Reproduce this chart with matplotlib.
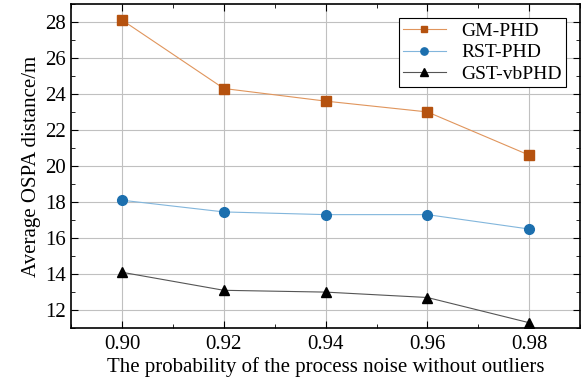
import matplotlib.pyplot as plt
from matplotlib.ticker import MultipleLocator

plt.rcParams.update({'font.family': 'Liberation Serif', 'font.size': 15})

prob = [0.90, 0.92, 0.94, 0.96, 0.98]
gm_phd = [28.1, 24.3, 23.6, 23.0, 20.6]
rst_phd = [18.1, 17.45, 17.3, 17.3, 16.5]
gst_vbphd = [14.1, 13.1, 13.0, 12.7, 11.3]

fig = plt.figure(figsize=(5.83, 3.82), dpi=100)
ax = fig.add_axes([0.122, 0.141, 0.873, 0.849])

ax.plot(prob, gm_phd, color='#e0955c', lw=0.8, marker='s', ms=6.5,
        mfc='#b5520f', mec='#b5520f', label='GM-PHD')
ax.plot(prob, rst_phd, color='#82b6dc', lw=0.8, marker='o', ms=7,
        mfc='#1c6fae', mec='#1c6fae', label='RST-PHD')
ax.plot(prob, gst_vbphd, color='#555555', lw=0.8, marker='^', ms=7.5,
        mfc='black', mec='black', label='GST-vbPHD')

ax.set_xlim(0.89, 0.99)
ax.set_ylim(11, 29)
ax.set_xticks(prob)
ax.set_xticklabels(['%.2f' % p for p in prob])
ax.set_yticks(range(12, 29, 2))
ax.xaxis.set_minor_locator(MultipleLocator(0.01))
ax.yaxis.set_minor_locator(MultipleLocator(1))
ax.tick_params(which='both', direction='in', top=True, right=True)
ax.tick_params(which='major', length=5)
ax.tick_params(which='minor', length=3)
ax.tick_params(axis='x', pad=5)
ax.grid(True, color='#c0c0c0', lw=0.8)
ax.set_axisbelow(True)
for s in ax.spines.values():
    s.set_linewidth(1.2)

ax.set_xlabel('The probability of the process noise without outliers', labelpad=2)
ax.set_ylabel('Average OSPA distance/m', labelpad=3)

leg = ax.legend(loc='upper right', fancybox=False, edgecolor='black',
                framealpha=1, fontsize=14, borderaxespad=0.75, handlelength=2.2,
                labelspacing=0.2, borderpad=0.2, handletextpad=0.8,
                markerscale=0.75)
leg.get_frame().set_linewidth(0.8)

plt.savefig('out.png', dpi=100)
